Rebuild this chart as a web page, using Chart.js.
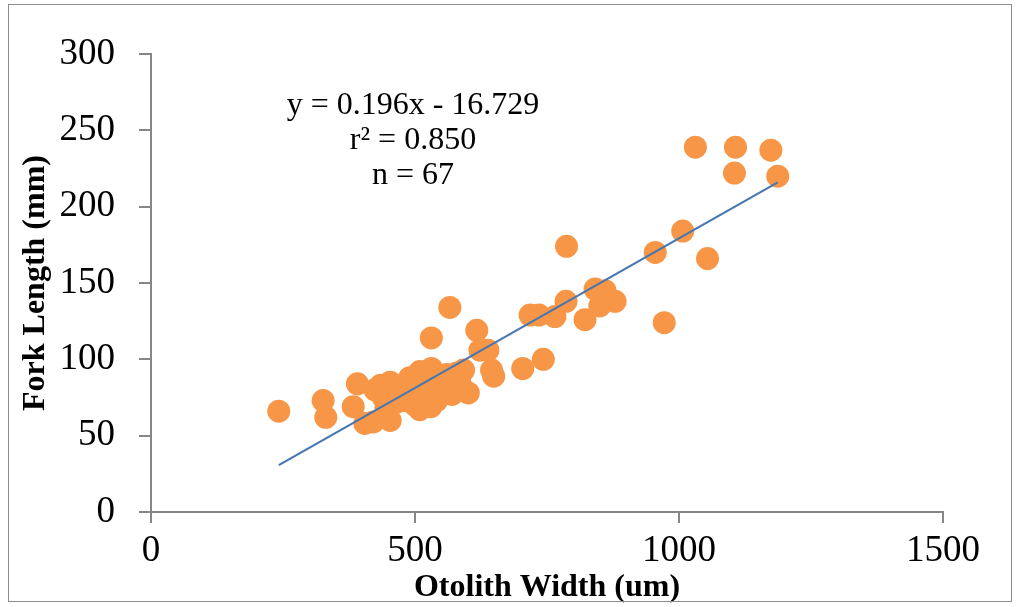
<!DOCTYPE html>
<html>
<head>
<meta charset="utf-8">
<script src="https://cdn.jsdelivr.net/npm/chart.js@4.4.1/dist/chart.umd.min.js"></script>
<style>
  html, body { margin: 0; padding: 0; background: #fff; }
  .wrap { position: relative; width: 1021px; height: 607px; }
  .frame { position: absolute; left: 8px; top: 4px; width: 1004px; height: 598px; border: 1.5px solid #8c8c8c; box-sizing: border-box; pointer-events: none; }
  canvas { position: absolute; left: 0; top: 0; }
</style>
</head>
<body>
<div class="wrap">
  <canvas id="scatter" width="1021" height="607"></canvas>
  <div class="frame"></div>
</div>
<script>
// Otolith width (um) vs fork length (mm), n = 67
const otolithWidth = [
  242, 326, 331, 383, 391, 405, 421, 453, 453, 424,
  440, 490, 509, 531, 478, 509, 541, 531, 566, 570,
  579, 601, 592, 617, 623, 638, 645, 649, 704, 743,
  718, 735, 765, 786, 787, 822, 841, 860, 850, 879,
  972, 955, 1007, 1054, 1031, 1107, 1174, 1105, 1187,
  445, 460, 470, 485, 495, 500, 515, 520, 525, 540,
  550, 555, 560, 500, 530, 465, 585, 435
];
const forkLength = [
  66, 73, 62, 69, 84, 58, 59, 60, 85, 80,
  75, 88, 92, 94, 73, 67, 73, 114, 134, 77,
  91, 78, 93, 119, 106, 106, 93, 89, 94, 100,
  129, 129, 128, 138, 174, 126, 146, 145, 135, 138,
  124, 170, 184, 166, 239, 239, 237, 222, 220,
  68, 78, 82, 80, 84, 76, 72, 80, 86, 82,
  86, 80, 90, 70, 69, 72, 85, 83
];

const xTicks = [0, 500, 1000, 1500];
const yTicks = [0, 50, 100, 150, 200, 250, 300];

// linear fit shown on the chart
const slope = 0.196;
const intercept = -16.729;
const fitLabels = ['y = 0.196x - 16.729', 'r\u00b2 = 0.850', 'n = 67'];

const points = otolithWidth.map((x, i) => ({ x, y: forkLength[i] }));
const xMin = Math.min(...otolithWidth);
const xMax = Math.max(...otolithWidth);
const fitLine = [xMin, xMax].map(x => ({ x, y: slope * x + intercept }));

const axisColor = '#868686';
const serif = "'Liberation Serif', 'DejaVu Serif', serif";

const fitText = {
  id: 'fitText',
  afterDraw(chart) {
    const { ctx, chartArea } = chart;
    ctx.save();
    ctx.fillStyle = '#000';
    ctx.font = `32px ${serif}`;
    ctx.textAlign = 'center';
    ctx.textBaseline = 'middle';
    const cx = chartArea.left + 262;
    fitLabels.forEach((t, i) => ctx.fillText(t, cx, chartArea.top + 52 + i * 35));
    ctx.restore();
  }
};

new Chart(document.getElementById('scatter'), {
  type: 'scatter',
  data: {
    datasets: [
      {
        label: 'Fork Length',
        data: points,
        backgroundColor: '#f79646',
        borderWidth: 0,
        pointRadius: 11.5,
        pointHoverRadius: 11.5,
        order: 2
      },
      {
        type: 'line',
        label: 'Linear fit',
        data: fitLine,
        borderColor: '#4677b0',
        borderWidth: 2.2,
        pointRadius: 0,
        fill: false,
        order: 1
      }
    ]
  },
  options: {
    responsive: false,
    animation: false,
    layout: { padding: { top: 54, right: 78, bottom: 0, left: 0 } },
    plugins: { legend: { display: false }, tooltip: { enabled: false } },
    scales: {
      x: {
        type: 'linear',
        min: 0, max: 1500,
        afterBuildTicks: s => { s.ticks = xTicks.map(v => ({ value: v })); },
        afterFit: s => { s.height = 95; },
        border: { display: true, color: axisColor, width: 2 },
        grid: { drawOnChartArea: false, drawTicks: true, tickLength: 11, color: axisColor, lineWidth: 2 },
        ticks: { color: '#000', font: { family: serif, size: 37 }, padding: 6, maxRotation: 0, callback: v => String(v) },
        title: { display: true, text: 'Otolith Width (um)', color: '#000', font: { family: serif, size: 32, weight: 'bold', lineHeight: 1.2 }, padding: { top: 0, bottom: 0 } }
      },
      y: {
        type: 'linear',
        min: 0, max: 300,
        afterBuildTicks: s => { s.ticks = yTicks.map(v => ({ value: v })); },
        afterFit: s => { s.width = 151; },
        border: { display: true, color: axisColor, width: 2 },
        grid: { drawOnChartArea: false, drawTicks: true, tickLength: 12, color: axisColor, lineWidth: 2 },
        ticks: { color: '#000', font: { family: serif, size: 37 }, padding: 24, callback: v => String(v) },
        title: { display: true, text: 'Fork Length (mm)', color: '#000', font: { family: serif, size: 32, weight: 'bold', lineHeight: 1.2 }, padding: { top: 17, bottom: 0 } }
      }
    }
  },
  plugins: [fitText]
});
</script>
</body>
</html>
